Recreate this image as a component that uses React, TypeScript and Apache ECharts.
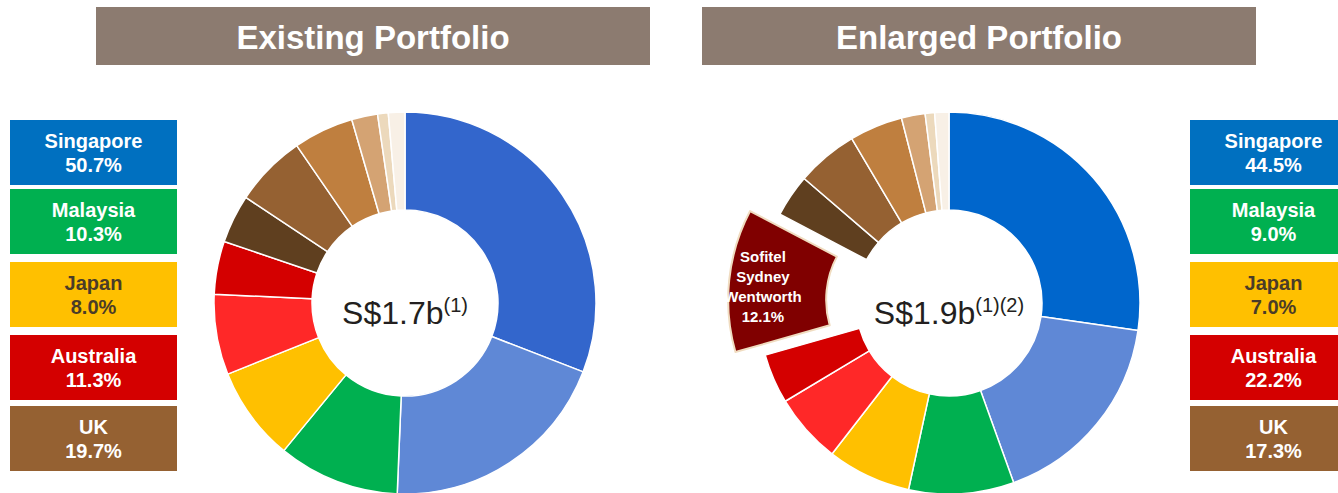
import React, { useEffect, useRef } from "react";
import * as echarts from "echarts";

const FONT = "'Liberation Sans', Arial, sans-serif";

// Existing portfolio slices (percent of total)
const leftValues = [30.9, 19.8, 10.3, 8.0, 6.8, 4.5, 4.1, 6.1, 5.1, 2.2, 0.9, 1.4];
const leftColors = ["#3366cc", "#5f88d6", "#00b050", "#ffc000", "#ff2828", "#d40000", "#5f3f1f", "#956132", "#bf7f3f", "#d4a373", "#ecd9bc", "#f8f0e6"];

// Enlarged portfolio slices
const rightValues = [27.3, 17.2, 8.9, 7.1, 5.9, 4.2, 12.1, 3.6, 5.2, 4.5, 2.0, 0.8, 1.2];
const rightColors = ["#0066cc", "#5f88d6", "#00b050", "#ffc000", "#ff2828", "#d40000", "#800000", "#5f3f1f", "#956132", "#bf7f3f", "#d4a373", "#ecd9bc", "#f8f0e6"];
const highlightIndex = 6;
const highlightLabel = "Sofitel\nSydney\nWentworth\n12.1%";

// Legend boxes
const countries = ["Singapore", "Malaysia", "Japan", "Australia", "UK"];
const countryColors = ["#0070c0", "#00b050", "#ffc000", "#d40000", "#956132"];
const countryTextColors = ["#ffffff", "#ffffff", "#4a3c28", "#ffffff", "#ffffff"];
const leftShares = ["50.7%", "10.3%", "8.0%", "11.3%", "19.7%"];
const rightShares = ["44.5%", "9.0%", "7.0%", "22.2%", "17.3%"];
const boxTops = [120, 189, 262, 335, 406];

const titles = ["Existing Portfolio", "Enlarged Portfolio"];
const centerMain = ["S$1.7b", "S$1.9b"];
const centerSup = ["(1)", "(1)(2)"];

export default function App() {
  const ref = useRef<HTMLDivElement>(null);
  useEffect(() => {
    if (!ref.current) return;
    const chart = echarts.init(ref.current, undefined, { renderer: "svg" });

    const graphics: any[] = [];
    const headerX = [96, 702];
    titles.forEach((t, i) => {
      graphics.push({
        type: "rect",
        shape: { x: headerX[i], y: 7, width: 554, height: 58 },
        style: { fill: "#8c7b70" },
      });
      graphics.push({
        type: "text",
        x: headerX[i] + 277,
        y: 37,
        style: {
          text: t,
          fill: "#ffffff",
          font: `bold 33px ${FONT}`,
          align: "center",
          verticalAlign: "middle",
        },
      });
    });

    const boxX = [10, 1190];
    const shares = [leftShares, rightShares];
    [0, 1].forEach((side) => {
      countries.forEach((c, i) => {
        graphics.push({
          type: "rect",
          shape: { x: boxX[side], y: boxTops[i], width: 167, height: 65 },
          style: { fill: countryColors[i] },
        });
        graphics.push({
          type: "text",
          x: boxX[side] + 83.5,
          y: boxTops[i] + 33,
          style: {
            text: c + "\n" + shares[side][i],
            fill: countryTextColors[i],
            font: `bold 20px ${FONT}`,
            lineHeight: 24,
            align: "center",
            verticalAlign: "middle",
          },
        });
      });
    });

    const centersX = [405, 949];
    [0, 1].forEach((i) => {
      graphics.push({
        type: "text",
        x: centersX[i],
        y: 313,
        z: 100,
        style: {
          text: `{a|${centerMain[i]}}{b|${centerSup[i]}}`,
          align: "center",
          verticalAlign: "middle",
          rich: {
            a: { fontSize: 32, fontFamily: FONT, fill: "#231f20", color: "#231f20", lineHeight: 36 },
            b: { fontSize: 20, fontFamily: FONT, fill: "#231f20", color: "#231f20", verticalAlign: "top", lineHeight: 20 },
          },
        },
      });
    });

    const leftData = leftValues.map((v, i) => ({
      value: v,
      itemStyle: { color: leftColors[i] },
    }));
    const rightData = rightValues.map((v, i) => {
      const d: any = { value: v, itemStyle: { color: rightColors[i] } };
      if (i === highlightIndex) {
        d.selected = true;
        d.itemStyle = { color: rightColors[i], borderColor: "#f0dcc0", borderWidth: 2 };
        d.label = {
          show: true,
          position: "inside",
          formatter: highlightLabel,
          color: "#ffffff",
          fontWeight: "bold",
          fontSize: 15,
          lineHeight: 20,
          fontFamily: FONT,
        };
      }
      return d;
    });

    const baseSeries = {
      type: "pie",
      radius: [93, 191],
      startAngle: 90,
      clockwise: true,
      avoidLabelOverlap: false,
      label: { show: false },
      labelLine: { show: false },
      emphasis: { disabled: true },
      itemStyle: { borderColor: "#ffffff", borderWidth: 1.5 },
    };

    chart.setOption({
      animation: false,
      graphic: graphics,
      series: [
        { ...baseSeries, center: [405, 303], data: leftData },
        {
          ...baseSeries,
          center: [949, 303],
          selectedMode: "single",
          selectedOffset: 30,
          select: { itemStyle: { borderColor: "#f0dcc0", borderWidth: 2 } },
          labelLayout: { dx: -12, dy: 2 },
          data: rightData,
        },
      ],
    });

    return () => chart.dispose();
  }, []);

  return (
    <div
      ref={ref}
      style={{ position: "fixed", left: 0, top: 0, width: 1338, height: 493, background: "#ffffff" }}
    />
  );
}
